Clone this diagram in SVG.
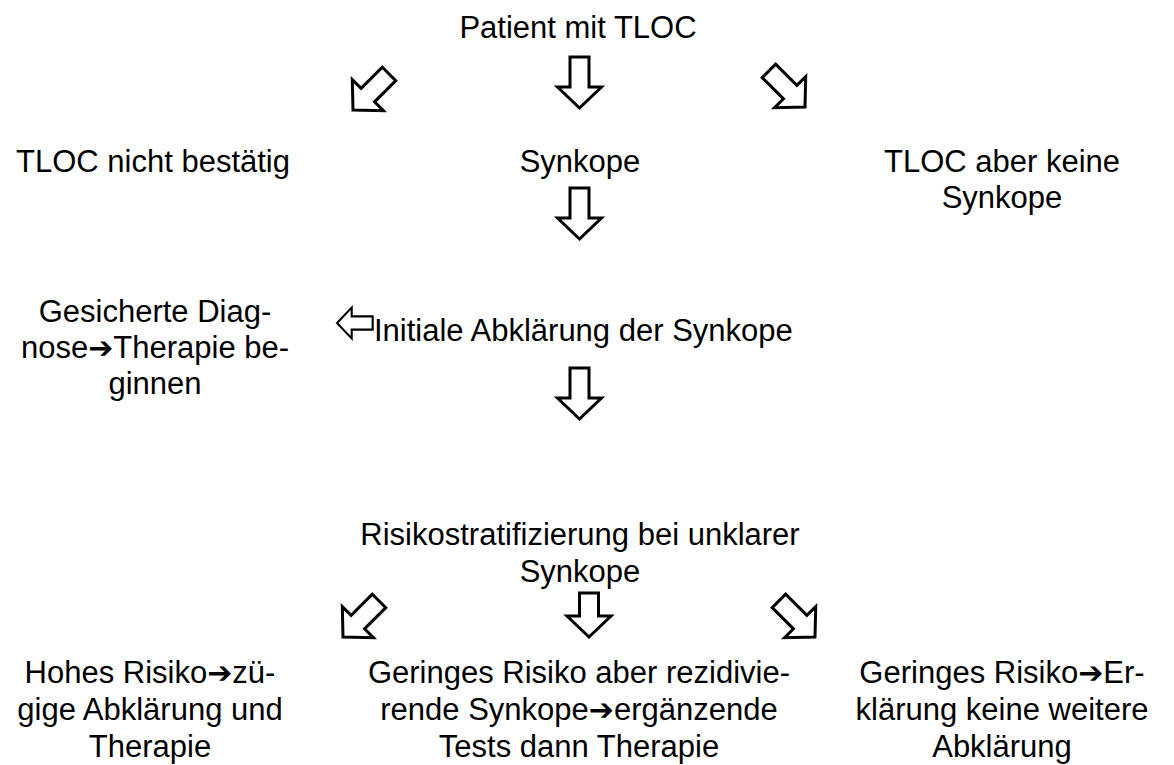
<svg xmlns="http://www.w3.org/2000/svg" xmlns:xlink="http://www.w3.org/1999/xlink" width="1174" height="765" viewBox="0 0 1174 765">
<style>
text{font-family:"Liberation Sans",Arial,sans-serif;font-size:31px;fill:#000;text-anchor:middle}
.ra{font-family:"DejaVu Sans",sans-serif;font-size:30px;font-weight:bold}
.arr{fill:#fff;stroke:#000;stroke-width:3;stroke-linejoin:miter}
</style>
<defs>
<path id="da" d="M-9.5,-51 L9.5,-51 L9.5,-21 L22,-21 L0,0 L-22,-21 L-9.5,-21 Z"/>
<path id="ds" d="M-9.5,-44 L9.5,-44 L9.5,-21 L22,-21 L0,0 L-22,-21 L-9.5,-21 Z"/>
</defs>
<rect width="1174" height="765" fill="#fff"/>
<g id="connectors">
<use xlink:href="#da" class="arr" transform="translate(353,110) rotate(45)"/>
<use xlink:href="#da" class="arr" transform="translate(579.5,108)"/>
<use xlink:href="#da" class="arr" transform="translate(805,107) rotate(-45)"/>
<use xlink:href="#da" class="arr" transform="translate(579.5,239)"/>
<use xlink:href="#da" class="arr" transform="translate(337,323) rotate(90) scale(0.7)"/>
<use xlink:href="#da" class="arr" transform="translate(579.5,419)"/>
<use xlink:href="#da" class="arr" transform="translate(343,637) rotate(45)"/>
<use xlink:href="#ds" class="arr" transform="translate(589,637)"/>
<use xlink:href="#da" class="arr" transform="translate(815,637) rotate(-45)"/>
</g>
<g id="patient"><text x="578" y="38">Patient mit TLOC</text></g>
<g id="nicht"><text x="153" y="172">TLOC nicht bestätig</text></g>
<g id="synkope"><text x="580" y="172">Synkope</text></g>
<g id="keine"><text x="1002" y="172">TLOC aber keine</text><text x="1002" y="208">Synkope</text></g>
<g id="gesichert"><text x="155" y="322">Gesicherte Diag-</text><text x="155" y="358">nose<tspan class="ra">➔</tspan>Therapie be-</text><text x="155" y="394">ginnen</text></g>
<g id="initial"><text x="374" y="341" style="text-anchor:start">Initiale Abklärung der Synkope</text></g>
<g id="risiko"><text x="580" y="545">Risikostratifizierung bei unklarer</text><text x="580" y="582">Synkope</text></g>
<g id="hoch"><text x="150" y="683">Hohes Risiko<tspan class="ra">➔</tspan>zü-</text><text x="150" y="720">gige Abklärung und</text><text x="150" y="757">Therapie</text></g>
<g id="rezidiv"><text x="579" y="683">Geringes Risiko aber rezidivie-</text><text x="579" y="720">rende Synkope<tspan class="ra">➔</tspan>ergänzende</text><text x="579" y="757">Tests dann Therapie</text></g>
<g id="gering"><text x="1002" y="683">Geringes Risiko<tspan class="ra">➔</tspan>Er-</text><text x="1002" y="720">klärung keine weitere</text><text x="1002" y="757">Abklärung</text></g>
</svg>
